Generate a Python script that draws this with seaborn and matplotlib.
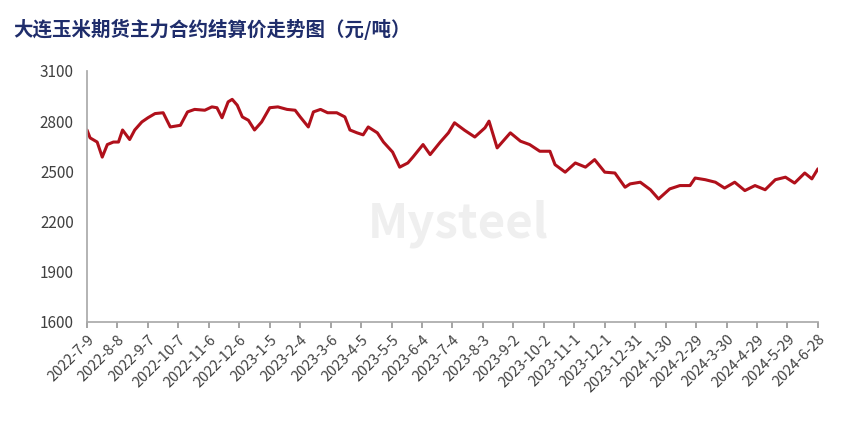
import matplotlib
matplotlib.use("Agg")
import matplotlib.pyplot as plt
import seaborn as sns
import pandas as pd
import numpy as np

start_date = "2022-07-09"
day_offsets = [0,3,10,15,20,26,31,35,42,47,54,60,67,75,82,92,99,106,116,123,128,133,139,143,148,153,159,165,172,180,188,197,205,210,218,223,230,237,246,254,259,266,272,277,286,292,301,308,316,321,331,338,348,356,
               362,372,382,392,396,404,417,427,436,446,456,461,471,481,491,500,510,520,530,535,545,555,563,574,584,594,599,609,619,628,638,648,658,668,678,688,697,707,714,720]
prices = [2747,2700,2675,2585,2660,2675,2675,2747,2690,2747,2795,2820,2845,2850,2765,2775,2855,2870,2865,2885,2880,2820,2915,2930,2895,2825,2805,2747,2795,2880,2885,2870,2865,2825,2765,2855,2870,2850,2850,2825,2747,2730,2718,2765,2730,2675,2615,2525,2550,2585,2660,2600,2675,2730,
          2790,2745,2705,2760,2800,2640,2730,2680,2660,2620,2620,2540,2495,2550,2525,2570,2495,2490,2405,2425,2435,2390,2335,2395,2415,2415,2460,2450,2435,2400,2435,2385,2415,2390,2450,2465,2430,2490,2455,2515]
yticks = [1600,1900,2200,2500,2800,3100]
title = "大连玉米期货主力合约结算价走势图（元/吨）"

sns.set_theme(style="white")
plt.rcParams['font.family'] = ['Noto Sans CJK SC', 'DejaVu Sans']

t0 = pd.Timestamp(start_date)
df = pd.DataFrame({"date": [t0 + pd.Timedelta(days=d) for d in day_offsets], "price": prices})

fig = plt.figure(figsize=(8.65, 4.22), dpi=100)
ax = fig.add_axes([0.1006, 0.237, 0.845, 0.595])
fig.text(0.53, 0.47, "Mysteel", fontsize=34, color="#efefef", ha="center", va="center", weight="bold", zorder=0)
sns.lineplot(data=df, x="date", y="price", ax=ax, color="#b0101b", linewidth=2.2)

end = t0 + pd.Timedelta(days=720)
ax.set_xlim(t0, end)
ax.set_ylim(1600, 3100)
ax.set_yticks(yticks)
ticks = [t0 + pd.Timedelta(days=30 * i) for i in range(25)]
ax.set_xticks(ticks)
ax.set_xticklabels([f"{t.year}-{t.month}-{t.day}" for t in ticks], rotation=45, ha="right", rotation_mode="anchor", fontsize=10.5, color="#404040")
ax.tick_params(axis="y", labelsize=11, labelcolor="#404040")
ax.tick_params(axis="x", length=4, color="#999999", bottom=True)
ax.set_xlabel("")
ax.set_ylabel("")
for s in ["top", "right"]:
    ax.spines[s].set_visible(False)
for s in ["left", "bottom"]:
    ax.spines[s].set_color("#aaaaaa")
fig.text(0.015, 0.93, title, fontsize=14, weight="bold", color="#1f2d6b", ha="left", va="center")
fig.savefig("out.png", dpi=100)
